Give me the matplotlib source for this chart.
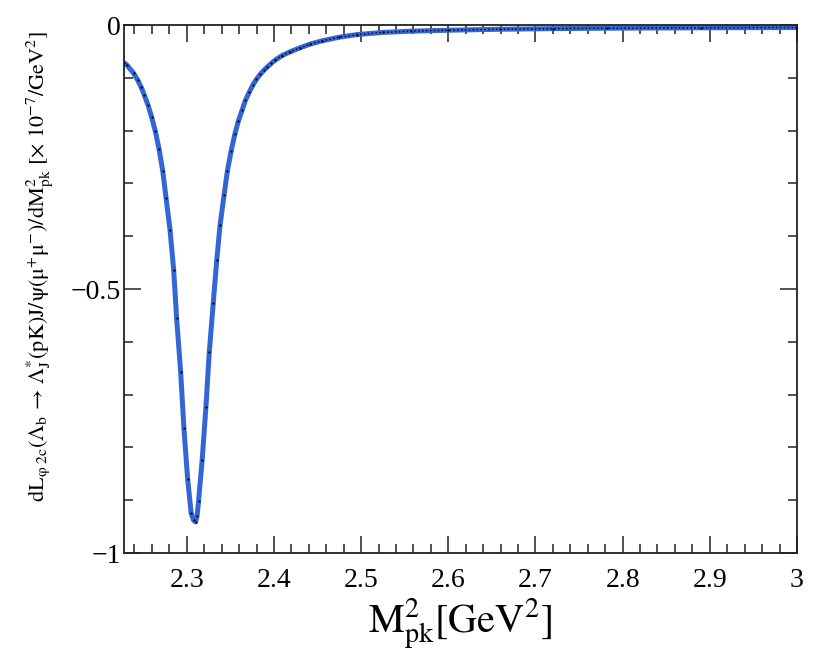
import matplotlib
matplotlib.use("Agg")
import matplotlib.pyplot as plt
from matplotlib.ticker import MultipleLocator, FixedLocator

plt.rcParams['font.family'] = ['Liberation Serif', 'DejaVu Serif']
plt.rcParams['mathtext.fontset'] = 'stix'

x_vals = [2.2285, 2.2314, 2.2391, 2.2436, 2.2475, 2.2513, 2.2555, 2.2598, 2.2639,
          2.2682, 2.2724, 2.2762, 2.2808, 2.2850, 2.2883, 2.2930, 2.2967, 2.3010,
          2.3051, 2.3078, 2.3101, 2.3118, 2.3135, 2.3177, 2.3220, 2.3258, 2.3304,
          2.3344, 2.3382, 2.3428, 2.3466, 2.3509, 2.3551, 2.3592, 2.3635, 2.3673,
          2.3716, 2.3758, 2.3799, 2.3842, 2.3888, 2.3926, 2.3969, 2.4015, 2.4091,
          2.4187, 2.4302, 2.4417, 2.4550, 2.4750, 2.4955, 2.5250, 2.5570, 2.6000,
          2.6590, 2.7200, 2.7820, 2.8900, 3.0000]
y_vals = [-0.072, -0.0758, -0.0915, -0.104, -0.117, -0.1326, -0.1515, -0.1749, -0.2008,
          -0.2348, -0.276, -0.327, -0.388, -0.464, -0.554, -0.657, -0.763, -0.860,
          -0.925, -0.938, -0.941, -0.930, -0.902, -0.823, -0.723, -0.620, -0.526,
          -0.445, -0.379, -0.322, -0.2765, -0.2386, -0.207, -0.1818, -0.161, -0.1427,
          -0.1275, -0.1136, -0.1029, -0.0934, -0.0852, -0.079, -0.0727, -0.0663, -0.058,
          -0.0506, -0.043, -0.036, -0.030, -0.023, -0.018, -0.014, -0.0116, -0.0098,
          -0.008, -0.0068, -0.006, -0.0052, -0.0047]

x_major = [2.3, 2.4, 2.5, 2.6, 2.7, 2.8, 2.9, 3.0]
x_labels = ["2.3", "2.4", "2.5", "2.6", "2.7", "2.8", "2.9", "3"]
y_major = [-1.0, -0.5, 0.0]
y_labels = ["\u22121", "\u22120.5", "0"]

fig = plt.figure(figsize=(8.30, 6.59), dpi=100)
ax = fig.add_axes([0.1494, 0.1608, 0.8108, 0.8012])

ax.plot(x_vals, y_vals, color='#3366d4', lw=3.6, solid_capstyle='round',
        solid_joinstyle='round', zorder=2)
ax.plot(x_vals, y_vals, linestyle='none', marker='o', ms=1.6, mew=0,
        color='black', zorder=3)
tail = [i for i, xv in enumerate(x_vals) if xv >= 2.40]
ax.plot([x_vals[i] for i in tail], [y_vals[i] for i in tail], color='black',
        lw=1.0, linestyle=(0, (1, 1.8)), zorder=3)

ax.set_xlim(2.228, 3.0)
ax.set_ylim(-1.0, 0.0)

ax.xaxis.set_major_locator(FixedLocator(x_major))
ax.set_xticklabels(x_labels)
ax.xaxis.set_minor_locator(MultipleLocator(0.02))
ax.yaxis.set_major_locator(FixedLocator(y_major))
ax.set_yticklabels(y_labels)
ax.yaxis.set_minor_locator(MultipleLocator(0.1))

ax.tick_params(which='both', direction='in', top=True, right=True, width=1.1,
               color='#222222')
ax.tick_params(which='major', length=12)
ax.tick_params(which='minor', length=6.5)
ax.tick_params(axis='x', which='major', labelsize=20, pad=11)
ax.tick_params(axis='y', which='major', labelsize=20, pad=2)
for s in ax.spines.values():
    s.set_linewidth(1.3)
    s.set_color('#222222')

ax.set_xlabel(r'$\mathrm{M}^{2}_{\mathrm{pk}}[\mathrm{GeV}^{2}]$', fontsize=29, labelpad=2)
ax.set_ylabel(r'$\mathrm{dL}_{\mathrm{φ\ 2c}}(\Lambda_{\mathrm{b}}\,\rightarrow\,\Lambda^{*}_{\mathrm{J}}(\mathrm{pK})\mathrm{J/ψ(μ}^{+}\mathrm{μ}^{-}\mathrm{)/dM}^{2}_{\mathrm{pk}}\ [\times\ 10^{-7}/\mathrm{GeV}^{2}]$',
              fontsize=16)
ax.yaxis.set_label_coords(-0.103, 0.542)

fig.savefig('out.png', dpi=100)
